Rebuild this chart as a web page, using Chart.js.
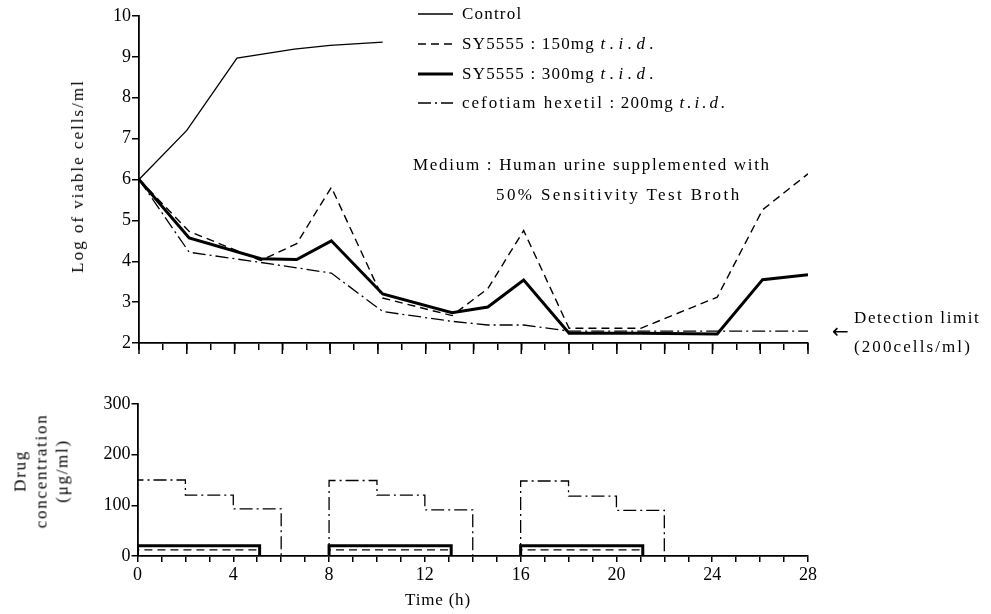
<!DOCTYPE html>
<html>
<head>
<meta charset="utf-8">
<script src="https://cdn.jsdelivr.net/npm/chart.js@4.4.0/dist/chart.umd.min.js"></script>
<style>
  body { margin: 0; background: #fff; }
  #wrap { position: relative; width: 991px; height: 614px; overflow: hidden; font-family: 'Liberation Serif', serif; color: #000; }
  canvas { position: absolute; left: 0; }
  .txt { position: absolute; white-space: nowrap; font-size: 17px; line-height: 20px; }
  .leg { letter-spacing: 1.2px; }
  .leg i { letter-spacing: 4.5px; }
  .rot { transform: translate(-50%, -50%) rotate(-90deg); text-align: center; }
</style>
</head>
<body>
<div id="wrap">
  <canvas id="viableChart" width="991" height="370" style="top:0"></canvas>
  <canvas id="drugChart" width="991" height="234" style="top:380px"></canvas>

  <div class="txt leg" style="left:462px;top:4px">Control</div>
  <div class="txt leg" style="left:462px;top:34px">SY5555 : 150mg <i>t.i.d.</i></div>
  <div class="txt leg" style="left:462px;top:64px">SY5555 : 300mg <i>t.i.d.</i></div>
  <div class="txt leg" style="left:462px;top:93px"><span style="letter-spacing:2px">cefotiam hexetil</span> : 200mg <i style="letter-spacing:3px">t.i.d.</i></div>

  <div class="txt" style="left:413px;top:155px;letter-spacing:1.7px">Medium : Human urine supplemented with</div>
  <div class="txt" style="left:496px;top:185px;letter-spacing:2.4px">50% Sensitivity Test Broth</div>

  <div class="txt" style="left:832px;top:321px;font-family:'DejaVu Sans';font-size:20px">&larr;</div>
  <div class="txt" style="left:854px;top:308px;letter-spacing:1.6px">Detection limit</div>
  <div class="txt" style="left:854px;top:337px;letter-spacing:2.1px">(200cells/ml)</div>

  <div class="txt rot" style="left:78px;top:176px;letter-spacing:2px">Log of viable cells/ml</div>
  <div class="txt rot" style="left:41px;top:471px;line-height:21px;letter-spacing:1.7px">Drug<br>concentration<br>(&mu;g/ml)</div>
  <div class="txt" style="left:438px;top:600px;transform:translate(-50%,-50%);letter-spacing:0.8px">Time (h)</div>
</div>

<script>
// Log des cellules viables selon le temps (h)
const controlTimes = [0, 2, 4.1, 6.5, 8, 10.2];
const controlValues = [6, 7.2, 8.97, 9.19, 9.28, 9.36];
const sampleTimes = [0, 2.1, 5.1, 6.6, 8.05, 10.2, 13.1, 14.6, 16.1, 18, 21, 24.2, 26.1, 28];
const sy150Values = [6, 4.73, 4.02, 4.43, 5.81, 3.1, 2.67, 3.33, 4.75, 2.36, 2.36, 3.12, 5.26, 6.14];
const sy300Values = [6, 4.57, 4.06, 4.04, 4.5, 3.2, 2.74, 2.88, 3.54, 2.24, 2.24, 2.22, 3.55, 3.67];
const cefotiamValues = [6, 4.22, 3.97, 3.84, 3.71, 2.77, 2.53, 2.44, 2.44, 2.29, 2.29, 2.29, 2.29, 2.29];

// Concentration du médicament (µg/ml)
const doseTimes = [0, 8, 16];
const sy150Levels = [12, 12, 12];
const sy300Levels = [20, 20, 20];
const syDuration = 5.1;
const cefotiamSteps = [[150, 120, 93], [149, 120, 91], [148, 118, 90]];
const cefotiamStepLength = 2;

// graduations
const logTicks = [2, 3, 4, 5, 6, 7, 8, 9, 10];
const drugTicks = [0, 100, 200, 300];
const timeLabels = [0, 4, 8, 12, 16, 20, 24, 28];

const legendRows = [14, 44, 74, 103];

Chart.defaults.font.family = "'Liberation Serif', serif";
Chart.defaults.color = '#000';

function toPoints(xs, ys) {
  return xs.map((x, i) => ({ x: x, y: ys[i] }));
}

// créneaux : monte à la dose, descend à la fin
function syPoints(levels) {
  const pts = [];
  doseTimes.forEach((t, i) => {
    pts.push({ x: t, y: 0 }, { x: t, y: levels[i] }, { x: t + syDuration, y: levels[i] }, { x: t + syDuration, y: 0 }, { x: t + syDuration, y: null });
  });
  return pts;
}

function cefotiamPoints() {
  const pts = [];
  doseTimes.forEach((t, i) => {
    pts.push({ x: t, y: 0 });
    cefotiamSteps[i].forEach((v, k) => {
      pts.push({ x: t + k * cefotiamStepLength, y: v }, { x: t + (k + 1) * cefotiamStepLength, y: v });
    });
    const end = t + cefotiamSteps[i].length * cefotiamStepLength;
    pts.push({ x: end, y: 0 }, { x: end, y: null });
  });
  return pts;
}

const lineStyle = { borderColor: '#000', pointRadius: 0, tension: 0, fill: false, spanGaps: false };

function axisStyle(tickLength) {
  return {
    grid: { drawOnChartArea: false, color: '#000', lineWidth: 1.5, tickLength: tickLength },
    border: { display: true, color: '#000', width: 1.8 }
  };
}

// échantillons de la légende + graduations longues toutes les 2 h
const extras = {
  id: 'extras',
  afterDraw(chart) {
    const ctx = chart.ctx;
    chart.data.datasets.forEach((ds, i) => {
      ctx.save();
      ctx.strokeStyle = '#000';
      ctx.lineWidth = ds.borderWidth;
      ctx.setLineDash(ds.borderDash || []);
      ctx.beginPath();
      ctx.moveTo(418, legendRows[i]);
      ctx.lineTo(453, legendRows[i]);
      ctx.stroke();
      ctx.restore();
    });
    const xs = chart.scales.x;
    const bottom = chart.chartArea.bottom;
    ctx.save();
    ctx.strokeStyle = '#000';
    ctx.lineWidth = 1.5;
    for (let h = 0; h <= 28; h += 2) {
      const px = xs.getPixelForValue(h);
      ctx.beginPath();
      ctx.moveTo(px, bottom);
      ctx.lineTo(px, bottom + 11);
      ctx.stroke();
    }
    ctx.restore();
  }
};

new Chart(document.getElementById('viableChart'), {
  type: 'line',
  data: {
    datasets: [
      { label: 'Control', data: toPoints(controlTimes, controlValues), borderWidth: 1.3, ...lineStyle },
      { label: 'SY5555 : 150mg t.i.d.', data: toPoints(sampleTimes, sy150Values), borderWidth: 1.4, borderDash: [8, 5], ...lineStyle },
      { label: 'SY5555 : 300mg t.i.d.', data: toPoints(sampleTimes, sy300Values), borderWidth: 3, ...lineStyle },
      { label: 'cefotiam hexetil : 200mg t.i.d.', data: toPoints(sampleTimes, cefotiamValues), borderWidth: 1.3, borderDash: [13, 4, 2, 4], ...lineStyle }
    ]
  },
  options: {
    responsive: false,
    animation: false,
    layout: { padding: { left: 0, right: 183, top: 16, bottom: 0 } },
    plugins: { legend: { display: false }, tooltip: { enabled: false } },
    scales: {
      x: {
        type: 'linear', min: 0, max: 28,
        ticks: { stepSize: 1, display: false, autoSkip: false },
        afterFit: s => { s.height = 27; },
        ...axisStyle(7)
      },
      y: {
        min: 2, max: 10,
        afterBuildTicks: s => { s.ticks = logTicks.map(v => ({ value: v })); },
        ticks: { font: { size: 18 }, padding: 1 },
        afterFit: s => { s.width = 139; },
        ...axisStyle(7)
      }
    }
  },
  plugins: [extras]
});

new Chart(document.getElementById('drugChart'), {
  type: 'line',
  data: {
    datasets: [
      { label: 'SY5555 : 150mg t.i.d.', data: syPoints(sy150Levels), borderWidth: 1.4, borderDash: [8, 5], ...lineStyle },
      { label: 'SY5555 : 300mg t.i.d.', data: syPoints(sy300Levels), borderWidth: 3, ...lineStyle },
      { label: 'cefotiam hexetil : 200mg t.i.d.', data: cefotiamPoints(), borderWidth: 1.3, borderDash: [13, 4, 2, 4], ...lineStyle }
    ]
  },
  options: {
    responsive: false,
    animation: false,
    layout: { padding: { left: 0, right: 183, top: 24, bottom: 0 } },
    plugins: { legend: { display: false }, tooltip: { enabled: false } },
    scales: {
      x: {
        type: 'linear', min: 0, max: 28,
        ticks: {
          stepSize: 1, autoSkip: false, maxRotation: 0, padding: 2, font: { size: 18 },
          callback: v => timeLabels.includes(v) ? String(v) : ''
        },
        afterFit: s => { s.height = 58; },
        ...axisStyle(6)
      },
      y: {
        min: 0, max: 300,
        afterBuildTicks: s => { s.ticks = drugTicks.map(v => ({ value: v })); },
        ticks: { font: { size: 18 }, padding: 1 },
        afterFit: s => { s.width = 137.5; },
        ...axisStyle(6)
      }
    }
  }
});
</script>
</body>
</html>
